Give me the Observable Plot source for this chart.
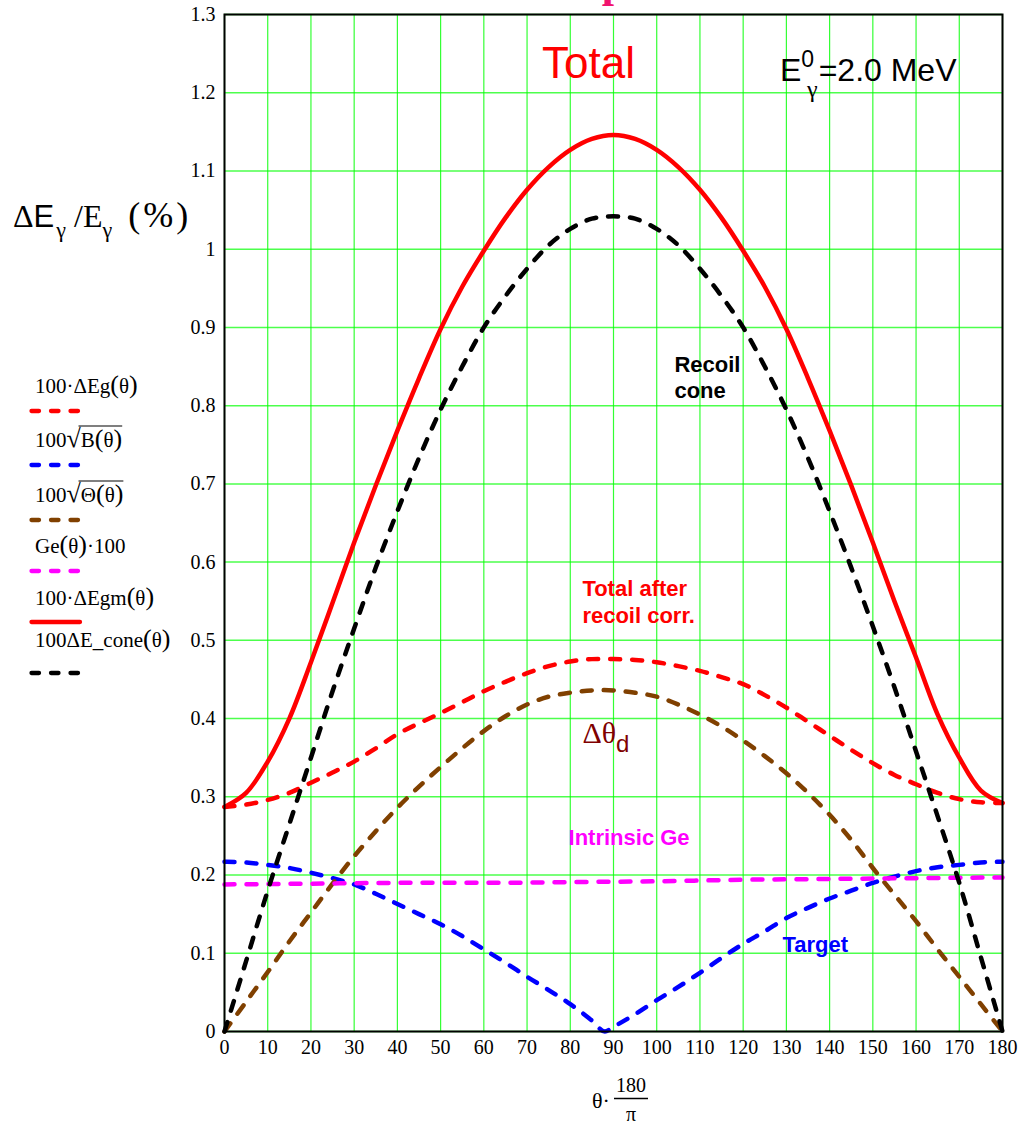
<!DOCTYPE html>
<html><head><meta charset="utf-8">
<script src="https://cdn.jsdelivr.net/npm/d3@7"></script>
<script src="https://cdn.jsdelivr.net/npm/@observablehq/plot@0.6"></script>
<style>
html,body{margin:0;padding:0;background:#fff;}
#wrap{position:relative;width:1024px;height:1125px;overflow:hidden;background:#fff;}
#wrap > svg{position:absolute;left:0;top:0;}
</style></head><body><div id="wrap"></div>
<script>
// ---- data ----
const angles = [0,5,10,15,20,25,30,35,40,45,50,55,60,65,70,75,80,85,90,95,100,105,110,115,120,125,130,135,140,145,150,155,160,165,170,175,180];
const totalAfterCorr = [0.287,0.290,0.296,0.305,0.318,0.331,0.345,0.362,0.380,0.394,0.407,0.421,0.435,0.447,0.458,0.467,0.473,0.476,0.476,0.475,0.472,0.467,0.461,0.453,0.444,0.430,0.414,0.396,0.378,0.360,0.343,0.328,0.316,0.305,0.297,0.293,0.292];
const deltaTheta = [0,0.038,0.076,0.115,0.152,0.189,0.224,0.256,0.286,0.313,0.338,0.362,0.384,0.403,0.418,0.428,0.433,0.436,0.436,0.433,0.428,0.418,0.405,0.390,0.372,0.352,0.330,0.305,0.277,0.245,0.209,0.175,0.141,0.105,0.070,0.035,0];
const totalSolid = [0.287,0.305,0.345,0.400,0.472,0.548,0.625,0.698,0.768,0.835,0.898,0.952,0.998,1.040,1.076,1.105,1.127,1.141,1.146,1.141,1.127,1.105,1.076,1.040,0.998,0.952,0.898,0.835,0.768,0.698,0.625,0.550,0.478,0.405,0.350,0.308,0.292];
const recoilCone = [0,0.090,0.180,0.265,0.350,0.435,0.515,0.593,0.665,0.733,0.795,0.850,0.900,0.940,0.975,1.005,1.026,1.039,1.042,1.039,1.026,1.005,0.975,0.940,0.900,0.850,0.795,0.733,0.665,0.593,0.518,0.440,0.358,0.275,0.190,0.095,0];
const targetAngles = [0,5,10,15,20,25,30,35,40,45,50,55,60,65,70,75,80,85,88,90,95,100,105,110,115,120,125,130,135,140,145,150,155,160,165,170,175,180];
const target = [0.217,0.216,0.213,0.209,0.203,0.196,0.188,0.176,0.163,0.150,0.137,0.122,0.105,0.088,0.070,0.053,0.035,0.014,0.0,0.006,0.022,0.040,0.057,0.075,0.094,0.112,0.128,0.145,0.158,0.170,0.180,0.190,0.198,0.205,0.210,0.213,0.216,0.217];
const geAngles = [0,20,40,60,80,100,120,140,160,180];
const intrinsicGe = [0.188,0.189,0.190,0.190,0.191,0.192,0.194,0.195,0.196,0.197];

const seriesNames = ["100·ΔEg(θ)","100√B(θ)","100√Θ(θ)","Ge(θ)·100","100·ΔEgm(θ)","100ΔE_cone(θ)"];
const seriesColors = ["#ff0000","#0000ff","#804000","#ff00ff","#ff0000","#000000"];
const seriesDashed = [true,true,true,true,false,true];
const seriesCurve = ["catmull-rom","monotone-x","catmull-rom","monotone-x","catmull-rom","catmull-rom"];
const seriesX = [angles, targetAngles, angles, geAngles, angles, angles];
const seriesY = [totalAfterCorr, target, deltaTheta, intrinsicGe, totalSolid, recoilCone];

const xTicks = [0,10,20,30,40,50,60,70,80,90,100,110,120,130,140,150,160,170,180];
const yTicks = [0,0.1,0.2,0.3,0.4,0.5,0.6,0.7,0.8,0.9,1.0,1.1,1.2,1.3];

const noteTexts  = ["Total","E0γ=2.0 MeV","Recoil\ncone","Total after\nrecoil corr.","Δθd","Intrinsic Ge","Target"];
const noteAngles = [84.2,128.5,104.1,82.8,82.8,79.6,129.1];
const noteValues = [1.237,1.228,0.837,0.550,0.381,0.247,0.110];
const noteColors = ["#ff0000","#000000","#000000","#ff0000","#800000","#ff00ff","#0000ff"];

// ---- chart ----
const SANS = "'Liberation Sans', Arial, sans-serif";
const SERIF = "'Liberation Serif','Times New Roman',serif";

const lineMarks = seriesNames.map((name, i) =>
  Plot.line(seriesX[i].map((a, j) => ({angle: a, value: seriesY[i][j], series: name})), {
    x: "angle", y: "value",
    stroke: seriesColors[i], strokeWidth: 4.5,
    strokeDasharray: seriesDashed[i] ? "10,12" : undefined,
    strokeLinecap: "round", strokeLinejoin: "round",
    curve: seriesCurve[i]
  })
);

const noteStyles = [
  {fontSize: 44, fontFamily: SANS, textAnchor: "middle"},
  {fontSize: 32, fontFamily: SANS, textAnchor: "start"},
  {fontSize: 22, fontFamily: SANS, fontWeight: "bold", textAnchor: "start", lineHeight: 1.2},
  {fontSize: 22, fontFamily: SANS, fontWeight: "bold", textAnchor: "start", lineHeight: 1.2},
  {fontSize: 30, fontFamily: SERIF, textAnchor: "start"},
  {fontSize: 22, fontFamily: SANS, fontWeight: "bold", textAnchor: "start"},
  {fontSize: 22, fontFamily: SANS, fontWeight: "bold", textAnchor: "start"}
];
const noteMarks = noteTexts.map((t, i) =>
  Plot.text([{t, a: noteAngles[i], v: noteValues[i]}], {
    x: "a", y: "v", text: "t", fill: noteColors[i], ...noteStyles[i]
  })
);

const chart = Plot.plot({
  width: 1024, height: 1125,
  marginLeft: 224, marginRight: 22, marginTop: 14, marginBottom: 94,
  x: {domain: [0, 180]},
  y: {domain: [0, 1.3]},
  style: {fontFamily: SERIF, fontSize: "20px", background: "transparent", color: "#000"},
  marks: [
    Plot.gridX(xTicks, {stroke: "#00ff00", strokeOpacity: 0.8, strokeWidth: 1.2}),
    Plot.gridY(yTicks, {stroke: "#00ff00", strokeOpacity: 0.7, strokeWidth: 1.5}),
    ...lineMarks,
    Plot.frame({stroke: "#000", strokeWidth: 2}),
    Plot.axisX(xTicks, {tickSize: 0, tickPadding: 8, label: null, tickFormat: d => String(d), fontSize: 20}),
    Plot.axisY(yTicks, {tickSize: 0, tickPadding: 9, label: null, tickFormat: d => String(+d.toFixed(1)), fontSize: 20}),
    ...noteMarks
  ]
});
document.getElementById("wrap").appendChild(chart);

// rich-text fix-ups for the two annotations with sub/superscripts
const findText = s => d3.select(chart).selectAll("text").filter(function() { return this.textContent === s; });
findText("E0γ=2.0 MeV").each(function() {
  const t = d3.select(this); t.text(null);
  t.append("tspan").text("E");
  t.append("tspan").attr("dy", -14).attr("font-size", 23).text("0");
  t.append("tspan").attr("dx", -7).attr("dy", 30).attr("font-size", 24).attr("font-family", SERIF).text("γ");
  t.append("tspan").attr("dx", 1).attr("dy", -16).text("=2.0 MeV");
});
findText("Δθd").each(function() {
  const t = d3.select(this); t.text(null);
  t.append("tspan").text("Δθ");
  t.append("tspan").attr("dy", 9).attr("font-size", 24).attr("font-family", SANS).text("d");
});

// ---- overlay: axis titles, legend, clipped heading ----
const ov = d3.select("#wrap").append("svg").attr("width", 1024).attr("height", 1125)
  .style("font-family", SERIF);

// clipped heading glyph at the very top (the reference's title is cut off there)
ov.append("text").attr("x", 614).attr("y", -3).attr("text-anchor", "middle")
  .attr("font-size", 44).attr("font-weight", "bold").attr("fill", "#f0146e").text("p");

// y title
const yt = ov.append("text").attr("x", 13).attr("y", 227).attr("font-size", 32).attr("fill", "#000");
yt.append("tspan").text("Δ");
yt.append("tspan").attr("font-family", SANS).attr("font-size", 31).text("E");
yt.append("tspan").attr("dy", 10).attr("dx", 2).attr("font-size", 22).text("γ");
yt.append("tspan").attr("dy", -10).text(" /E");
yt.append("tspan").attr("dy", 10).attr("font-size", 22).text("γ");
yt.append("tspan").attr("dy", -10).attr("dx", 16).attr("font-size", 36).attr("letter-spacing", 3).text("(%)");

// x title: θ·180/π
const xt = ov.append("g").attr("fill", "#000");
xt.append("text").attr("x", 592).attr("y", 1108).attr("font-size", 22).text("θ·");
xt.append("text").attr("x", 631).attr("y", 1092).attr("text-anchor", "middle").attr("font-size", 20).text("180");
xt.append("line").attr("x1", 614).attr("x2", 648).attr("y1", 1098.5).attr("y2", 1098.5).attr("stroke", "#000").attr("stroke-width", 1.5);
xt.append("text").attr("x", 631).attr("y", 1121).attr("text-anchor", "middle").attr("font-size", 20).text("π");

// legend
const legendParts = [
  [["100·ΔEg"], ["(", 1], ["θ"], [")", 1]],
  [["100"], ["√", 2], ["B"], ["(", 1], ["θ"], [")", 1]],
  [["100"], ["√", 2], ["Θ"], ["(", 1], ["θ"], [")", 1]],
  [["Ge"], ["(", 1], ["θ"], [")", 1], ["·100"]],
  [["100·ΔEgm"], ["(", 1], ["θ"], [")", 1]],
  [["100ΔE_cone"], ["(", 1], ["θ"], [")", 1]]
];
const legendBaselines = [393, 447, 502, 553, 605, 647];
const legendSwatchY = [411, 465, 520, 571, 622, 673];
legendParts.forEach((parts, i) => {
  const t = ov.append("text").attr("x", 35).attr("y", legendBaselines[i]).attr("font-size", 21).attr("fill", "#000");
  let chars = 0, radStart = -1;
  parts.forEach(([s, kind]) => {
    const sp = t.append("tspan").text(s);
    if (kind === 1) sp.attr("font-size", 26);
    if (kind === 2) { sp.attr("font-size", 26); radStart = chars + s.length; }
    chars += s.length;
  });
  if (radStart >= 0) {
    const node = t.node();
    const x0 = node.getStartPositionOfChar(radStart - 1).x + 12;
    const x1 = node.getEndPositionOfChar(chars - 1).x;
    ov.append("line").attr("x1", x0).attr("x2", x1)
      .attr("y1", legendBaselines[i] - 21).attr("y2", legendBaselines[i] - 21)
      .attr("stroke", "#000").attr("stroke-width", 1.2);
  }
  ov.append("line").attr("x1", 31.5).attr("x2", seriesDashed[i] ? 78 : 80)
    .attr("y1", legendSwatchY[i]).attr("y2", legendSwatchY[i])
    .attr("stroke", seriesColors[i]).attr("stroke-width", 4.3)
    .attr("stroke-linecap", "round")
    .attr("stroke-dasharray", seriesDashed[i] ? "7.5,12" : null);
});
</script>
</body></html>
